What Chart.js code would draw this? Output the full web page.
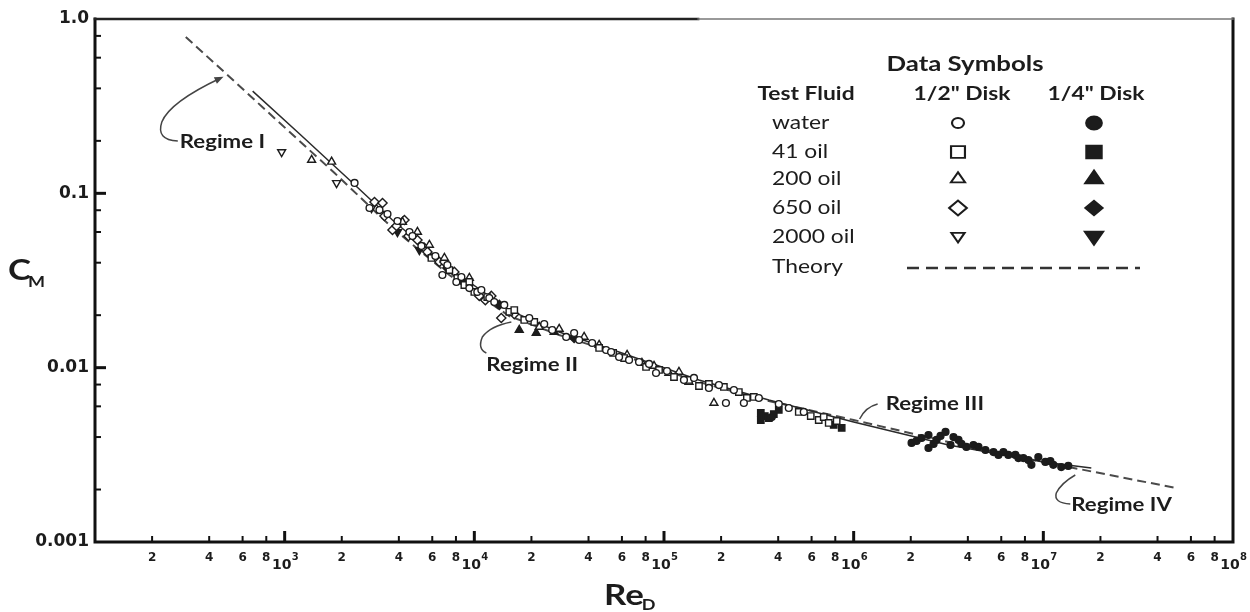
<!DOCTYPE html>
<html>
<head>
<meta charset="utf-8">
<script src="https://cdn.jsdelivr.net/npm/chart.js@4.4.1/dist/chart.umd.min.js"></script>
<style>
html, body { margin: 0; padding: 0; background: #fff; }
#wrap { width: 1250px; height: 612px; position: relative; }
</style>
</head>
<body>
<div id="wrap"><canvas id="cm-chart"></canvas></div>
<script>
// tick values and labels (10^n labels get a raised exponent)
const xTickValues = [2e2, 4e2, 6e2, 8e2, 1e3, 2e3, 4e3, 6e3, 8e3, 1e4, 2e4, 4e4, 6e4, 8e4, 1e5,
    2e5, 4e5, 6e5, 8e5, 1e6, 2e6, 4e6, 6e6, 8e6, 1e7, 2e7, 4e7, 6e7, 8e7, 1e8];
const xTickLabels = ['2', '4', '6', '8', '10^3', '2', '4', '6', '8', '10^4', '2', '4', '6', '8', '10^5',
    '2', '4', '6', '8', '10^6', '2', '4', '6', '8', '10^7', '2', '4', '6', '8', '10^8'];
const yTickValues = [1, 0.8, 0.6, 0.4, 0.2, 0.1, 0.08, 0.06, 0.04, 0.02, 0.01, 0.008, 0.006, 0.004, 0.002, 0.001];
const yTickLabels = ['1.0', '', '', '', '', '0.1', '', '', '', '', '0.01', '', '', '', '', '0.001'];

// theory curve (dashed) and fitted curve (solid)
const theoryRe = [301, 513, 907, 1833, 3700, 7380, 15270, 28000, 57900, 152700, 357000, 1.0e6, 3.16e6, 1.0e7, 5.01e7];
const theoryCm = [0.788, 0.465, 0.263, 0.1308, 0.0633, 0.0340, 0.01978, 0.01539, 0.01198, 0.00827, 0.00644, 0.00501, 0.00375, 0.002876, 0.00204];
const fitRe = [678, 1200, 2198, 3700, 7380, 15270, 28000, 57900, 152700, 357000, 1.0e6, 3.16e6, 1.0e7, 1.79e7];
const fitCm = [0.386, 0.219, 0.1193, 0.0703, 0.0373, 0.0214, 0.0160, 0.0123, 0.00849, 0.00652, 0.00488, 0.0036, 0.00288, 0.002657];

// 1/2" disk
const waterHalfRe = [2336, 2801, 3162, 3484, 3933, 4549, 4718, 5260, 6232, 6786, 7209, 8040, 8545, 9413, 10370, 10890, 11990, 12740, 14380,
    19480, 23360, 25730, 30500, 33590, 35690, 41800, 49520, 52620, 57970, 65430, 73860, 83400, 90780, 103700, 127400, 143900,
    172500, 194800, 212100, 233600, 263700, 316200, 402900, 454900, 545700];
const waterHalfCm = [0.1147, 0.0824, 0.0802, 0.0761, 0.0694, 0.0600, 0.0569, 0.0499, 0.0437, 0.0340, 0.0388, 0.0310, 0.0331, 0.0286, 0.0272, 0.0279, 0.0251, 0.0238, 0.0229,
    0.01927, 0.0178, 0.01645, 0.0150, 0.01581, 0.01441, 0.01385, 0.01263, 0.0123, 0.01151, 0.01107, 0.01078, 0.0105, 0.00932, 0.00957, 0.0085, 0.00873,
    0.00765, 0.00795, 0.00627, 0.00744, 0.00627, 0.0067, 0.00619, 0.00587, 0.00557];
const oil41HalfRe = [5937, 7386, 8135, 8859, 9413, 10000, 11700, 15290, 16240, 18330, 20700, 45500, 53900, 61600, 80420, 94130, 112900,
    135400, 152900, 172500, 206900, 248100, 273500, 297600, 513500, 593900, 654300, 695200, 738600, 813600];
const oil41HalfCm = [0.0426, 0.0363, 0.0327, 0.0298, 0.0310, 0.0272, 0.0254, 0.0209, 0.0214, 0.01877, 0.0183, 0.01297, 0.01214, 0.01136, 0.01009, 0.0097, 0.00884,
    0.0085, 0.00785, 0.00806, 0.00775, 0.00725, 0.0067, 0.00679, 0.00557, 0.00528, 0.00501, 0.00521, 0.00482, 0.00494];
const oil200HalfRe = [1387, 1768, 4178, 5012, 5794, 6952, 9413, 21980, 28010, 37920, 45500, 63880, 76500, 88600, 106200, 119900, 135400, 183300];
const oil200HalfCm = [0.1553, 0.1517, 0.0685, 0.0600, 0.0506, 0.0426, 0.0327, 0.01711, 0.01667, 0.0150, 0.01349, 0.01182, 0.01063, 0.01022, 0.00932, 0.00945, 0.00828, 0.00627];
const oil650HalfRe = [2976, 3280, 3360, 3702, 3887, 4280, 4494, 5012, 5456, 5657, 6543, 6952, 7847, 9189, 10620, 11430, 12290, 13870, 16240];
const oil650HalfCm = [0.0892, 0.0880, 0.0741, 0.0616, 0.0650, 0.0703, 0.0569, 0.0540, 0.0486, 0.0461, 0.0404, 0.0404, 0.0354, 0.0302, 0.0258, 0.0244, 0.0258, 0.01927, 0.0203];
const oil2000HalfRe = [964, 1878, 2870];
const oil2000HalfCm = [0.1726, 0.1147, 0.0824];

// 1/4" disk
const waterQuarterRe = [370200, 2.02e6, 2.146e6, 2.28e6, 2.48e6, 2.48e6, 2.638e6, 2.735e6, 2.871e6, 3.05e6, 3.24e6, 3.36e6, 3.57e6, 3.70e6, 3.93e6,
    4.28e6, 4.55e6, 4.95e6, 5.46e6, 5.80e6, 6.16e6, 6.54e6, 7.12e6, 7.39e6, 7.85e6, 8.34e6, 8.65e6, 9.41e6, 1.025e7, 1.089e7, 1.129e7, 1.243e7, 1.354e7];
const waterQuarterCm = [0.00521, 0.0037, 0.0038, 0.00395, 0.00411, 0.00346, 0.00365, 0.00385, 0.00406, 0.00428, 0.0036, 0.0040, 0.00385, 0.00365, 0.00351,
    0.0036, 0.00351, 0.00337, 0.00328, 0.00316, 0.00328, 0.00316, 0.00316, 0.00303, 0.00303, 0.00295, 0.00277, 0.00307, 0.00288, 0.00291, 0.00277, 0.00269, 0.00273];
const oil41QuarterRe = [323900, 323900, 340100, 357000, 379300, 402900, 784800, 864700];
const oil41QuarterCm = [0.0055, 0.00501, 0.00528, 0.00514, 0.00542, 0.00572, 0.00469, 0.00451];
const oil200QuarterRe = [17250, 21200, 26370];
const oil200QuarterCm = [0.01645, 0.01581, 0.0160];
const oil650QuarterRe = [7209, 8545, 13540, 33590];
const oil650QuarterCm = [0.0373, 0.0318, 0.0229, 0.0148];
const oil2000QuarterRe = [3933, 5133];
const oil2000QuarterCm = [0.0600, 0.0473];

const STRETCH = 1.2;
const INK = '#1c1c1c';

function points(re, cm) {
    return re.map((x, i) => ({ x: x, y: cm[i] }));
}

function symbolSet(label, re, cm, style, rotation, filled, radius) {
    return {
        label: label,
        data: points(re, cm),
        pointStyle: style,
        rotation: rotation,
        radius: radius,
        borderWidth: 1.4,
        borderColor: INK,
        backgroundColor: filled ? INK : '#fff',
        showLine: false,
        order: 0
    };
}

const datasets = [
    symbolSet('water 1/2', waterHalfRe, waterHalfCm, 'circle', 0, false, 3.4),
    symbolSet('41 oil 1/2', oil41HalfRe, oil41HalfCm, 'rect', 0, false, 4.5),
    symbolSet('200 oil 1/2', oil200HalfRe, oil200HalfCm, 'triangle', 0, false, 4.6),
    symbolSet('650 oil 1/2', oil650HalfRe, oil650HalfCm, 'rectRot', 0, false, 4.6),
    symbolSet('2000 oil 1/2', oil2000HalfRe, oil2000HalfCm, 'triangle', 180, false, 4.6),
    symbolSet('water 1/4', waterQuarterRe, waterQuarterCm, 'circle', 0, true, 3.4),
    symbolSet('41 oil 1/4', oil41QuarterRe, oil41QuarterCm, 'rect', 0, true, 4.5),
    symbolSet('200 oil 1/4', oil200QuarterRe, oil200QuarterCm, 'triangle', 0, true, 4.6),
    symbolSet('650 oil 1/4', oil650QuarterRe, oil650QuarterCm, 'rectRot', 0, true, 4.6),
    symbolSet('2000 oil 1/4', oil2000QuarterRe, oil2000QuarterCm, 'triangle', 180, true, 4.6),
    {
        label: 'Theory',
        data: points(theoryRe, theoryCm),
        showLine: true,
        borderColor: '#4a4a4a',
        borderWidth: 2,
        borderDash: [9, 5],
        pointRadius: 0,
        fill: false,
        order: 2
    },
    {
        label: 'Fit',
        data: points(fitRe, fitCm),
        showLine: true,
        borderColor: '#2a2a2a',
        borderWidth: 1.5,
        pointRadius: 0,
        fill: false,
        order: 1
    }
];

// regime call-outs: anchor in data units, leader path in pixel offsets from the anchor
const regimeNotes = [
    { text: 'Regime I', re: 280, cm: 0.197,
      path: [[-2, -1], [-24, -2, -18, -20], [-10, -40, 41, -64]], arrow: true },
    { text: 'Regime II', re: 11570, cm: 0.01036,
      path: [[0, -12], [-9, -16, -4, -28], [4, -39, 25, -43]], arrow: false },
    { text: 'Regime III', re: 1.474e6, cm: 0.00619,
      path: [[-26, 15], [-20, 3, -8, 0]], arrow: false },
    { text: 'Regime IV', re: 1.404e7, cm: 0.00163,
      path: [[-1, -1], [-18, -2, -15, -12], [-10, -22, 4, -30]], arrow: false }
];

const legendRows = [
    { text: 'water', style: 'circle', rot: 0, rHalf: 5, rQuarter: 6.5 },
    { text: '41 oil', style: 'rect', rot: 0, rHalf: 8.2, rQuarter: 9 },
    { text: '200 oil', style: 'triangle', rot: 0, rHalf: 6.8, rQuarter: 8.5 },
    { text: '650 oil', style: 'rectRot', rot: 0, rHalf: 7.4, rQuarter: 7.2 },
    { text: '2000 oil', style: 'triangle', rot: 180, rHalf: 6.4, rQuarter: 8.8 }
];

function stretchText(ctx, text, x, y, font, align) {
    ctx.save();
    ctx.font = font;
    ctx.textAlign = align || 'left';
    ctx.textBaseline = 'middle';
    ctx.fillStyle = INK;
    ctx.translate(x, y);
    ctx.scale(STRETCH, 1);
    ctx.fillText(text, 0, 0);
    ctx.restore();
}

function textWidth(ctx, text, font) {
    ctx.save();
    ctx.font = font;
    let w = ctx.measureText(text).width * STRETCH;
    ctx.restore();
    return w;
}

function drawSymbol(ctx, style, rotation, filled, x, y, r) {
    ctx.save();
    ctx.translate(x, y);
    ctx.scale(STRETCH, 1);
    ctx.fillStyle = filled ? INK : '#fff';
    ctx.strokeStyle = INK;
    ctx.lineWidth = 1.8;
    Chart.helpers.drawPoint(ctx, { pointStyle: style, radius: r, rotation: rotation, borderWidth: 1.8 }, 0, 0);
    ctx.restore();
}

function isDecade(v) {
    return Math.abs(Math.log10(v) - Math.round(Math.log10(v))) < 1e-6;
}

const chartDecor = {
    id: 'chartDecor',
    beforeDraw(chart) {
        let ctx = chart.ctx;
        ctx.save();
        ctx.fillStyle = '#fff';
        ctx.fillRect(0, 0, chart.width, chart.height);
        ctx.restore();
    },
    afterDraw(chart) {
        let ctx = chart.ctx;
        let a = chart.chartArea;
        let xs = chart.scales.x;
        let ys = chart.scales.y;
        ctx.save();

        // frame
        ctx.strokeStyle = '#111';
        ctx.lineCap = 'square';
        ctx.lineWidth = 3;
        ctx.beginPath();
        ctx.moveTo(a.left, a.top);
        ctx.lineTo(a.left, a.bottom);
        ctx.lineTo(a.right, a.bottom);
        ctx.lineTo(a.right, a.top);
        ctx.stroke();
        ctx.lineWidth = 2.5;
        ctx.strokeStyle = '#222';
        ctx.beginPath();
        ctx.moveTo(a.left, a.top);
        ctx.lineTo(a.left + (a.right - a.left) * 0.53, a.top);
        ctx.stroke();
        ctx.lineWidth = 1.5;
        ctx.strokeStyle = '#777';
        ctx.beginPath();
        ctx.moveTo(a.left + (a.right - a.left) * 0.53, a.top);
        ctx.lineTo(a.right, a.top);
        ctx.stroke();

        // inward tick marks
        ctx.strokeStyle = '#111';
        ctx.lineCap = 'butt';
        xs.ticks.forEach((t) => {
            if (t.value >= 1e8) return;
            let major = isDecade(t.value);
            let px = xs.getPixelForValue(t.value);
            ctx.lineWidth = major ? 3 : 2;
            ctx.beginPath();
            ctx.moveTo(px, a.bottom);
            ctx.lineTo(px, a.bottom - (major ? 11 : 6));
            ctx.stroke();
        });
        ys.ticks.forEach((t) => {
            if (t.value >= 1 || t.value <= 0.001) return;
            let major = isDecade(t.value);
            let py = ys.getPixelForValue(t.value);
            ctx.lineWidth = major ? 3 : 2;
            ctx.beginPath();
            ctx.moveTo(a.left, py);
            ctx.lineTo(a.left + (major ? 11 : 6), py);
            ctx.stroke();
        });

        // decade labels on the x axis: 10 with a raised exponent
        ctx.fillStyle = INK;
        ctx.textBaseline = 'alphabetic';
        xTickValues.forEach((v, i) => {
            let lab = xTickLabels[i];
            if (lab.indexOf('^') < 0) return;
            let parts = lab.split('^');
            let px = xs.getPixelForValue(v);
            ctx.font = 'bold 14px "DejaVu Sans"';
            ctx.textAlign = 'center';
            ctx.fillText(parts[0], px - 3, a.bottom + 27);
            ctx.font = 'bold 10px "DejaVu Sans"';
            ctx.textAlign = 'left';
            ctx.fillText(parts[1], px + 7, a.bottom + 18);
        });

        // regime call-outs
        const noteFont = 'bold 18.5px Lato';
        regimeNotes.forEach((n) => {
            let ax = xs.getPixelForValue(n.re);
            let ay = ys.getPixelForValue(n.cm);
            stretchText(ctx, n.text, ax, ay, noteFont, 'left');
            ctx.strokeStyle = '#444';
            ctx.lineWidth = 1.5;
            ctx.beginPath();
            ctx.moveTo(ax + n.path[0][0], ay + n.path[0][1]);
            for (let i = 1; i < n.path.length; i++) {
                let p = n.path[i];
                ctx.quadraticCurveTo(ax + p[0], ay + p[1], ax + p[2], ay + p[3]);
            }
            ctx.stroke();
            if (n.arrow) {
                let last = n.path[n.path.length - 1];
                let tx = ax + last[2], ty = ay + last[3];
                let ang = Math.atan2(last[3] - last[1], last[2] - last[0]);
                ctx.fillStyle = '#444';
                ctx.beginPath();
                ctx.moveTo(tx + Math.cos(ang) * 3, ty + Math.sin(ang) * 3);
                ctx.lineTo(tx + Math.cos(ang + 2.6) * 7, ty + Math.sin(ang + 2.6) * 7);
                ctx.lineTo(tx + Math.cos(ang - 2.6) * 7, ty + Math.sin(ang - 2.6) * 7);
                ctx.closePath();
                ctx.fill();
            }
        });

        // legend table
        stretchText(ctx, 'Data Symbols', 965, 64, 'bold 21.5px Lato', 'center');
        stretchText(ctx, 'Test Fluid', 806, 94, 'bold 19px Lato', 'center');
        stretchText(ctx, '1/2" Disk', 962, 94, 'bold 19px Lato', 'center');
        stretchText(ctx, '1/4" Disk', 1096, 94, 'bold 19px Lato', 'center');
        const rowY = [123, 152, 179, 208, 237];
        legendRows.forEach((r, i) => {
            stretchText(ctx, r.text, 772, rowY[i], '19px Lato', 'left');
            drawSymbol(ctx, r.style, r.rot, false, 958, rowY[i] + (r.rot ? -1 : 0), r.rHalf);
            drawSymbol(ctx, r.style, r.rot, true, 1094, rowY[i] + (r.rot ? -1 : 0), r.rQuarter);
        });
        stretchText(ctx, 'Theory', 772, 267, '19px Lato', 'left');
        ctx.strokeStyle = '#333';
        ctx.lineWidth = 2.5;
        ctx.setLineDash([12, 7]);
        ctx.beginPath();
        ctx.moveTo(907, 268);
        ctx.lineTo(1140, 268);
        ctx.stroke();
        ctx.setLineDash([]);

        // axis titles with subscripts
        const bigFont = 'bold 29px Lato';
        const subFont = 'bold 15px Lato';
        stretchText(ctx, 'C', 8, 271, bigFont, 'left');
        stretchText(ctx, 'M', 5 + textWidth(ctx, 'C', bigFont), 282, subFont, 'left');
        stretchText(ctx, 'Re', 604, 596, bigFont, 'left');
        stretchText(ctx, 'D', 602 + textWidth(ctx, 'Re', bigFont), 605, subFont, 'left');

        ctx.restore();
    }
};

new Chart(document.getElementById('cm-chart'), {
    type: 'scatter',
    data: { datasets: datasets },
    options: {
        responsive: true,
        maintainAspectRatio: false,
        animation: false,
        layout: { padding: { top: 19, right: 17, left: 0, bottom: 0 } },
        plugins: {
            legend: { display: false },
            tooltip: { enabled: false }
        },
        scales: {
            x: {
                type: 'logarithmic',
                min: 100,
                max: 1e8,
                afterBuildTicks: (scale) => { scale.ticks = xTickValues.map((v) => ({ value: v })); },
                afterFit: (scale) => { scale.height = 70; },
                grid: { display: false, drawTicks: false },
                border: { display: false },
                ticks: {
                    autoSkip: false,
                    maxRotation: 0,
                    padding: 9,
                    color: INK,
                    font: { family: 'DejaVu Sans', weight: 'bold', size: 12 },
                    callback: (value, index) => (xTickLabels[index].indexOf('^') < 0 ? xTickLabels[index] : '')
                }
            },
            y: {
                type: 'logarithmic',
                min: 0.001,
                max: 1,
                afterBuildTicks: (scale) => { scale.ticks = yTickValues.map((v) => ({ value: v })); },
                afterFit: (scale) => { scale.width = 95; },
                grid: { display: false, drawTicks: false },
                border: { display: false },
                ticks: {
                    autoSkip: false,
                    padding: 6,
                    color: INK,
                    font: { family: 'DejaVu Sans', weight: 'bold', size: 17 },
                    callback: (value, index) => yTickLabels[index]
                }
            }
        }
    },
    plugins: [chartDecor]
});
</script>
</body>
</html>
